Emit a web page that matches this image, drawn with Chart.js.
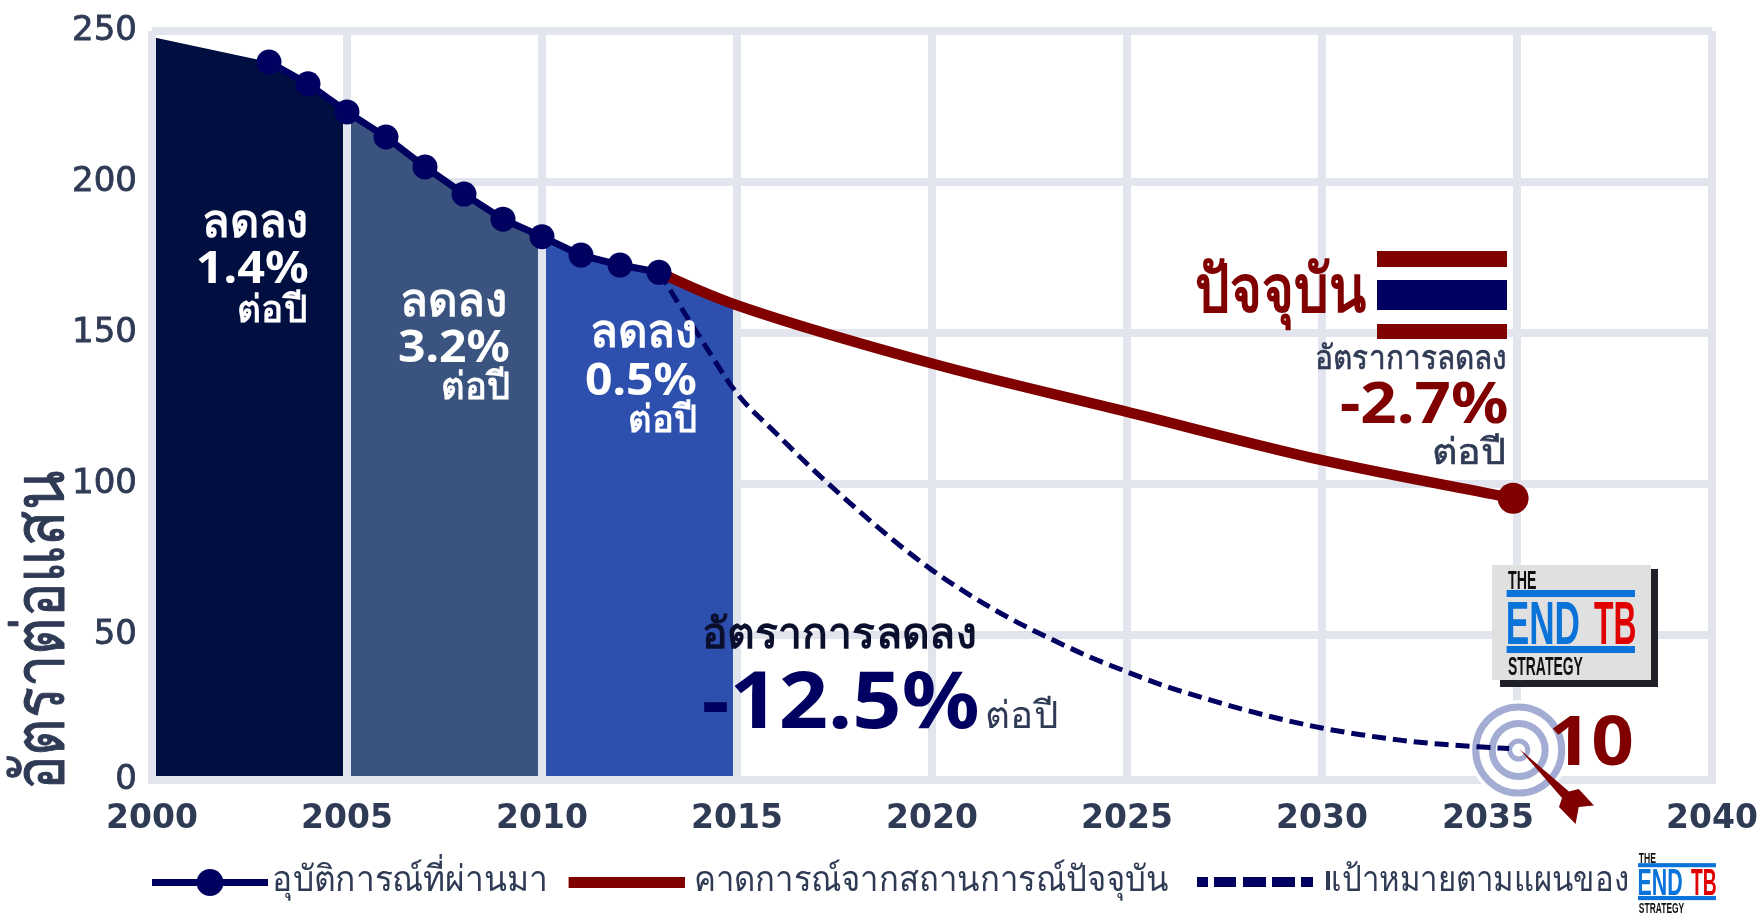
<!DOCTYPE html>
<html><head><meta charset="utf-8"><style>html,body{margin:0;background:#fff}canvas{display:block}</style>
<script src="https://cdn.jsdelivr.net/npm/chart.js@4"></script></head>
<body><canvas id="c" width="1761" height="915"></canvas>
<script>
// ---- data ----
const yTickValues = [0, 50, 100, 150, 200, 250];
const historyYears = [2003,2004,2005,2006,2007,2008,2009,2010,2011,2012,2013];
const historyValues = [239.7,232.5,223.2,214.9,205,196,187.7,181.9,175.8,172.5,170.1];
const projectionYears = [2013,2014,2015,2020,2025,2030,2034.9];
const projectionValues = [170.1,164.3,159.2,139.9,123.9,107.9,95.3];
const targetYears = [2013,2014,2015,2016,2017,2018,2019,2020,2021,2022,2023,2024,2025,2026,2027,2028,2029,2030,2031,2032,2033,2034,2034.8];
const targetValues = [170.1,149.6,130,116.8,104.2,92.5,81.5,71.5,63,55.5,49,43,37.8,33,29,25.3,22,19.2,17,15.2,13.9,13,12.4];
const band1Years = [2000,2003,2004,2005];
const band1Values = [248,239.7,232.5,223.2];
const band2Years = [2005,2006,2007,2008,2009,2010];
const band2Values = [223.2,214.9,205,196,187.7,181.9];
const band3Years = [2010,2011,2012,2013,2014,2015];
const band3Values = [181.9,175.8,172.5,170.1,164.3,159.2];
const legendLabels = ['อุบัติการณ์ที่ผ่านมา','คาดการณ์จากสถานการณ์ปัจจุบัน','เป้าหมายตามแผนของ'];

// ---- styling ----
const GRID='#e2e5ed', INK='#2f3a55', NAVY='#000060', RED='#800000', RING='#a3add3', BLUE='#0a73d9';
const SANS='"Noto Sans"';
const yFloor = 2; // the picture's 0 line sits just above a strict linear position
const pts=(xs,ys)=>xs.map((x,i)=>({x,y:ys[i]}));

function fit(ctx,s,l,r,b,font,color,stroke){
  ctx.save();ctx.font=font;ctx.textAlign='left';ctx.textBaseline='alphabetic';ctx.lineJoin='round';
  const m=ctx.measureText(s);const w=m.actualBoundingBoxLeft+m.actualBoundingBoxRight;
  ctx.translate(l,b);ctx.scale((r-l)/w,1);ctx.fillStyle=color;ctx.fillText(s,m.actualBoundingBoxLeft,0);
  if(stroke){ctx.strokeStyle=color;ctx.lineWidth=stroke;ctx.strokeText(s,m.actualBoundingBoxLeft,0);}
  ctx.restore();
}
const notes=[
 ['ลดลง',204,306,237,'bold 46px '+SANS,'#fff'],['1.4%',198,308,283,'bold 44px '+SANS,'#fff'],['ต่อปี',239,306,322,'bold 38px '+SANS,'#fff'],
 ['ลดลง',402,505,316,'bold 46px '+SANS,'#fff'],['3.2%',399,509,362,'bold 44px '+SANS,'#fff'],['ต่อปี',443,509,399,'bold 38px '+SANS,'#fff'],
 ['ลดลง',592,695,347,'bold 46px '+SANS,'#fff'],['0.5%',586,696,395,'bold 44px '+SANS,'#fff'],['ต่อปี',630,696,432,'bold 38px '+SANS,'#fff'],
 ['อัตราการลดลง',704,975,647.7,'bold 42px '+SANS,'#0b0f2e'],['-12.5%',704,978,727.7,'bold 78px '+SANS,NAVY],['ต่อปี',987,1056,727.7,'38px '+SANS,INK],
 ['ปัจจุบัน',1197,1366,312,'bold 66px '+SANS,RED],
 ['อัตราการลดลง',1317,1505,369,'33px '+SANS,INK,0.6],['-2.7%',1341,1507,423,'bold 58px '+SANS,RED],['ต่อปี',1434,1504,464,'36px '+SANS,INK,0.6],
 ['10',1553,1632,765,'bold 68px '+SANS,RED]
];
function logo(ctx,ox,oy,kx,ky){
  ctx.save();ctx.translate(ox,oy);ctx.scale(kx,ky);
  const small='bold 25px "Liberation Sans Narrow","Liberation Sans"', big='bold 62px "Liberation Sans Narrow","Liberation Sans"';
  fit(ctx,'THE',1508,1536,589,small,'#111');
  ctx.fillStyle=BLUE;ctx.fillRect(1506.6,590,128.4,7);ctx.fillRect(1506.6,646,128.4,7);
  fit(ctx,'END',1508,1579,644,big,BLUE);
  fit(ctx,'TB',1594,1635,644,big,'#e00000');
  fit(ctx,'STRATEGY',1508,1583,675,small,'#111');
  ctx.restore();
}
const overlay={id:'overlay',
  beforeDraw(chart){
    // the 2035 label is set left of its grid line to clear the arrow
    chart.scales.x.getLabelItems().forEach(it=>{
      if(it.label==='2035'&&!it.moved){it.options.translation[0]-=29;it.moved=true;}
    });
  },
  afterDatasetDraw(chart,args){
    if(args.index!==3)return;
    // vertical grid lines and the base line sit on top of the coloured bands
    const c=chart.ctx,a=chart.chartArea,x=chart.scales.x;
    c.save();c.strokeStyle=GRID;c.lineWidth=8;c.beginPath();
    x.ticks.forEach(t=>{const p=x.getPixelForValue(t.value);c.moveTo(p,a.top);c.lineTo(p,a.bottom+4);});
    c.moveTo(a.left-4,a.bottom);c.lineTo(a.right+4,a.bottom);c.stroke();
    // target rings
    const tx=1518.7,ty=750;
    c.fillStyle='#fff';c.beginPath();c.arc(tx,ty,50,0,7);c.fill();
    c.strokeStyle=RING;
    c.lineWidth=7;c.beginPath();c.arc(tx,ty,43,0,7);c.stroke();
    c.beginPath();c.arc(tx,ty,26.5,0,7);c.stroke();
    c.lineWidth=5;c.beginPath();c.arc(tx,ty,9,0,7);c.stroke();
    c.restore();
  },
  afterDatasetsDraw(chart){
    const c=chart.ctx;
    // flag
    c.fillStyle='#fff';c.fillRect(1377,251,130,88);
    c.fillStyle=RED;c.fillRect(1377,251,130,16);c.fillRect(1377,324,130,15);
    c.fillStyle=NAVY;c.fillRect(1377,280,130,30);
    // End TB badge
    c.fillStyle='#1f2028';c.fillRect(1500,569,158,118);
    c.fillStyle='#e0e0e0';c.fillRect(1492,565,159,115);
    logo(c,0,0,1,1);
    notes.forEach(n=>fit(c,...n));
    // arrow into the target
    c.fillStyle=RED;c.beginPath();
    [[1519.4,749],[1569,791.5],[1578.7,789],[1594,805.6],[1578.7,807],[1575.6,824],[1559,807],[1562,798]].forEach((p,i)=>i?c.lineTo(p[0],p[1]):c.moveTo(p[0],p[1]));
    c.closePath();c.fill();
    // y title
    c.save();c.translate(64,786);c.rotate(-Math.PI/2);
    fit(c,'อัตราต่อแสน',0,314,0,'72px '+SANS,INK,1);c.restore();
    // legend
    c.save();
    c.strokeStyle=NAVY;c.lineWidth=7;c.beginPath();c.moveTo(152,882.5);c.lineTo(268,882.5);c.stroke();
    c.fillStyle=NAVY;c.beginPath();c.arc(210,882.5,13.5,0,7);c.fill();
    c.fillStyle=RED;c.fillRect(568.6,877,116.4,11);
    c.fillStyle=NAVY;
    [[1197,1208],[1214,1236],[1243,1266],[1272,1295],[1301,1313]].forEach(d=>c.fillRect(d[0],877,d[1]-d[0],10));
    c.fillStyle=INK;c.fillRect(1326,871,4,19);
    c.restore();
    fit(c,legendLabels[0],274,545,891,'36px '+SANS,INK);
    fit(c,legendLabels[1],696,1168,891,'36px '+SANS,INK);
    fit(c,legendLabels[2],1333,1628,891,'36px '+SANS,INK);
    logo(c,1638-1506.6*0.607,852-571*0.587,0.607,0.587);
  }
};
new Chart(document.getElementById('c').getContext('2d'),{
  type:'line',
  data:{datasets:[
    {label:legendLabels[0],data:pts(historyYears,historyValues),order:0,borderColor:NAVY,backgroundColor:NAVY,borderWidth:7,pointRadius:12.5,pointHoverRadius:12.5,pointBackgroundColor:NAVY,pointBorderWidth:0,tension:0},
    {label:legendLabels[1],data:pts(projectionYears,projectionValues),order:1,borderColor:RED,borderWidth:10.5,cubicInterpolationMode:'monotone',pointRadius:c=>c.dataIndex===projectionYears.length-1?15.5:0,pointBackgroundColor:RED,pointBorderWidth:0},
    {label:legendLabels[2],data:pts(targetYears,targetValues),order:2,borderColor:NAVY,borderWidth:5,borderDash:[14,7],cubicInterpolationMode:'monotone',pointRadius:0},
    {label:'2000–2005',data:pts(band1Years,band1Values),order:3,borderWidth:0,pointRadius:0,fill:'start',backgroundColor:'#010e40',tension:0},
    {label:'2005–2010',data:pts(band2Years,band2Values),order:4,borderWidth:0,pointRadius:0,fill:'start',backgroundColor:'#3a547f',tension:0},
    {label:'2010–2015',data:pts(band3Years,band3Values),order:5,borderWidth:0,pointRadius:0,fill:'start',backgroundColor:'#2d50ae',tension:0}
  ]},
  options:{
    responsive:false,animation:false,
    layout:{padding:{top:31,right:49,left:0,bottom:0}},
    plugins:{legend:{display:false},tooltip:{enabled:false}},
    scales:{
      x:{type:'linear',min:2000,max:2040,
        afterFit:s=>{s.height=135;s.paddingLeft=0;s.paddingRight=0;},
        border:{display:false},
        grid:{color:GRID,lineWidth:8,drawTicks:false},
        ticks:{stepSize:5,padding:20,maxRotation:0,autoSkip:false,color:INK,font:{family:'"DejaVu Sans"',weight:'bold',size:33},callback:v=>String(v)}},
      y:{type:'linear',min:yFloor,max:250,
        afterBuildTicks:s=>{s.ticks=yTickValues.map(v=>({value:Math.max(v,yFloor)}));},
        afterFit:s=>{s.width=152;s.paddingTop=0;s.paddingBottom=0;},
        border:{display:false},
        grid:{color:GRID,lineWidth:8,drawTicks:false},
        ticks:{padding:15,color:INK,textStrokeColor:INK,textStrokeWidth:0.8,font:{family:'"DejaVu Sans"',size:34},callback:v=>v===yFloor?'0':String(v)}}
    }
  },
  plugins:[overlay]
});
</script></body></html>
